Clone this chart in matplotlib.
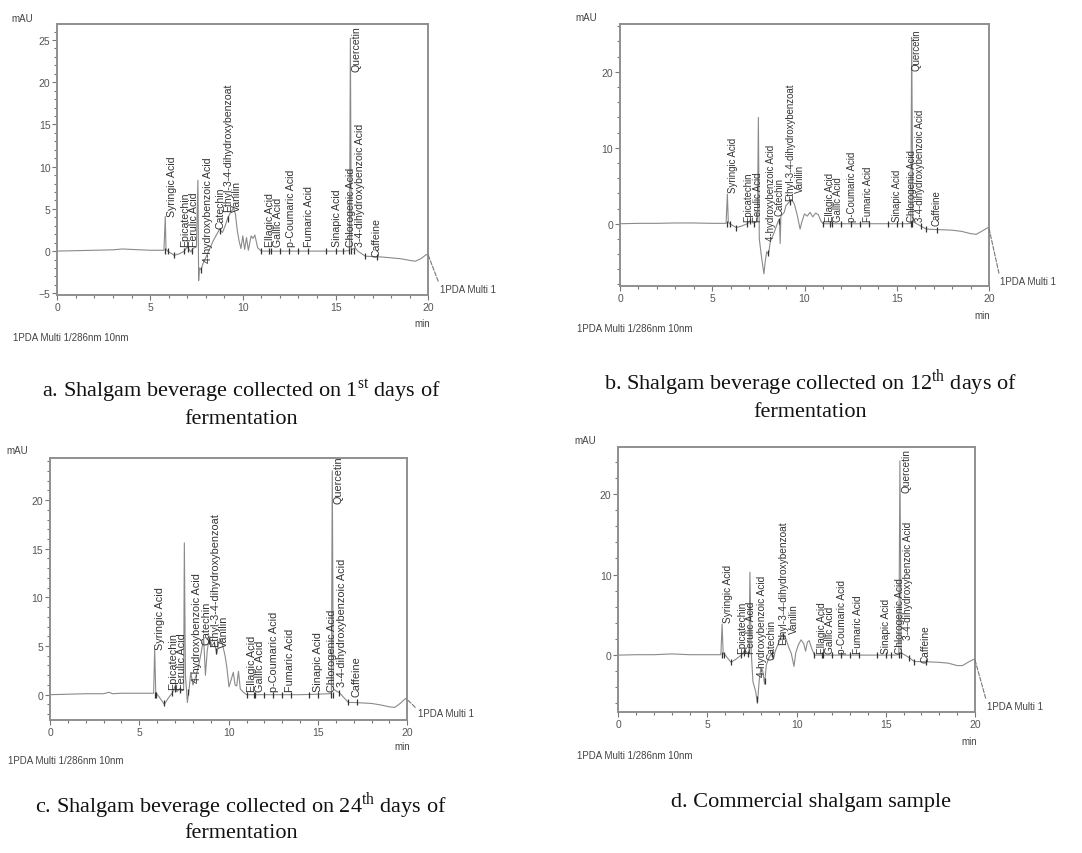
import numpy as np
import matplotlib
matplotlib.use("Agg")
import matplotlib.pyplot as plt
from matplotlib.ticker import MultipleLocator, FixedLocator

W, H = 1082, 854
plt.rcParams['font.family'] = ['Liberation Sans', 'DejaVu Sans']
plt.rcParams['mathtext.fontset'] = 'custom'
plt.rcParams['mathtext.rm'] = 'Liberation Serif'

# ---------------- data (retention time in min, signal in mAU) ----------------
compounds = ["Syringic Acid", "Epicatechin", "Ferulic Acid", "4-hydroxybenzoic Acid",
             "Catechin", "Ethyl-3-4-dihydroxybenzoat", "Vanilin", "Ellagic Acid",
             "Gallic Acid", "p-Coumaric Acid", "Fumaric Acid", "Sinapic Acid",
             "Chlorogenic Acid", "3-4-dihydroxybenzoic Acid", "Quercetin", "Caffeine"]

trace_a = [(0, 0), (1.0, 0.05), (2.0, 0.1), (3.0, 0.15), (3.5, 0.25), (4.0, 0.2), (5.0, 0.1),
           (5.75, 0.1), (5.82, 4.1), (5.86, 0.2), (5.95, 0.0), (6.3, -0.5), (6.6, -0.3),
           (6.85, 0.0), (7.0, 0.5), (7.1, 0.2), (7.2, -0.1), (7.3, 0.3), (7.5, 0.5),
           (7.58, 8.4), (7.62, -3.5), (7.66, -2.0), (7.75, -2.2), (7.85, -1.5), (8.0, -0.8),
           (8.2, 0.2), (8.4, 1.2), (8.6, 2.0), (8.75, 2.6), (8.9, 2.2), (9.05, 3.0),
           (9.2, 4.0), (9.35, 4.6), (9.5, 5.1), (9.6, 4.4), (9.7, 2.5), (9.8, 1.2),
           (9.9, 0.3), (10.0, 1.8), (10.1, 0.2), (10.2, 1.6), (10.3, 0.1), (10.45, 1.8),
           (10.55, 1.5), (10.65, 1.9), (10.8, 0.4), (11.0, 0.0), (12.0, 0.0), (13.0, 0.0),
           (14.0, 0.0), (15.0, 0.0), (15.5, 0.0), (15.75, 0.05), (15.8, 25.2), (15.85, 0.3),
           (15.9, 0.2), (16.05, 0.4), (16.2, 0.0), (16.4, -0.3), (16.6, -0.6), (17.0, -0.65),
           (17.5, -0.7), (18.0, -0.8), (18.5, -0.9), (19.0, -1.1), (19.3, -1.2), (19.6, -0.9),
           (19.9, -0.4), (20.0, -0.5)]

trace_b = [(0, 0), (1, 0.05), (2, 0.05), (3, 0.1), (4, 0.1), (5, 0.05), (5.75, 0.05),
           (5.82, 3.9), (5.87, 0.2), (5.95, 0), (6.3, -0.5), (6.6, -0.3), (6.9, 0),
           (7.05, 0.4), (7.2, 0.1), (7.35, 0.2), (7.45, 0.3), (7.5, 14.0), (7.55, -2.0),
           (7.65, -4.0), (7.8, -6.6), (7.87, -5.0), (7.95, -3.7), (8.05, -4.0), (8.15, -2.3),
           (8.3, -1.5), (8.45, -0.5), (8.6, 0.5), (8.65, 0.2), (8.68, -2.6), (8.72, 1.0),
           (8.9, 1.5), (9.0, 2.4), (9.15, 2.8), (9.3, 3.2), (9.45, 2.6), (9.6, 1.2),
           (9.76, -0.7), (9.85, 0.2), (10.0, 1.3), (10.15, 1.0), (10.3, 1.5), (10.45, 0.9),
           (10.6, 1.4), (10.75, 1.2), (10.9, 0.3), (11.0, 0), (12, 0), (13, 0), (14, 0),
           (15, 0), (15.6, 0), (15.76, 0.05), (15.81, 24.5), (15.87, 0.3), (16.0, 0.1),
           (16.3, -0.3), (16.6, -0.7), (17.0, -0.75), (17.5, -0.8), (18.0, -0.85),
           (18.5, -1.0), (19.0, -1.3), (19.3, -1.4), (19.6, -1.0), (19.95, -0.5), (20, -0.6)]

trace_c = [(0, 0), (1, 0.05), (2, 0.1), (3, 0.1), (3.3, 0.25), (3.5, 0.1), (4, 0.15),
           (5, 0.15), (5.8, 0.15), (5.86, 4.7), (5.92, 0.2), (6.1, -0.2), (6.4, -1.0),
           (6.6, -0.4), (6.85, 0.2), (7.0, 0.9), (7.1, 0.3), (7.25, 0.6), (7.4, 0.4),
           (7.48, 0.5), (7.52, 15.6), (7.58, 2.0), (7.69, -0.8), (7.8, 0.8), (7.88, 2.3),
           (8.0, 1.0), (8.15, 1.8), (8.3, 2.8), (8.45, 4.2), (8.6, 5.8), (8.7, 2.0),
           (8.8, 4.5), (8.92, 6.0), (9.05, 5.0), (9.2, 5.4), (9.33, 4.2), (9.5, 5.8),
           (9.65, 5.2), (9.8, 4.0), (9.9, 2.8), (10.02, 0.8), (10.15, 1.6), (10.26, 2.3),
           (10.36, 1.0), (10.45, 0.9), (10.55, 2.4), (10.65, 0.6), (10.8, 0.3), (11.0, 0),
           (12, 0), (13, 0), (14, 0), (15, 0.05), (15.6, 0.1), (15.75, 0.1), (15.8, 23.0),
           (15.86, 0.6), (16.0, 0.4), (16.2, 0.2), (16.45, -0.3), (16.7, -0.8), (17.0, -0.8),
           (17.5, -0.85), (18.0, -0.9), (18.5, -1.05), (19.0, -1.25), (19.3, -1.3),
           (19.6, -0.9), (19.9, -0.4), (20, -0.5)]

trace_d = [(0, 0), (1, 0.05), (2, 0.05), (3, 0.15), (3.5, 0.1), (4, 0.05), (5, 0.05),
           (5.75, 0.05), (5.82, 3.85), (5.88, 0.2), (6.0, 0), (6.32, -0.9), (6.6, -0.5),
           (6.9, 0), (7.1, 0.6), (7.25, 0.2), (7.33, 0.3), (7.38, 10.3), (7.45, 0.5),
           (7.55, -3.3), (7.7, -4.5), (7.8, -6.0), (7.9, -3.2), (8.0, -1.5), (8.1, -2.0),
           (8.2, -3.6), (8.3, -1.2), (8.45, -0.3), (8.6, 0.2), (8.7, -0.5), (8.8, 0.5),
           (8.95, 1.3), (9.1, 2.2), (9.25, 2.6), (9.4, 2.0), (9.55, 1.0), (9.7, 0.2),
           (9.85, -1.4), (9.95, 0.3), (10.1, 1.3), (10.25, 1.9), (10.4, 1.4), (10.5, 0.5),
           (10.6, 1.6), (10.7, 1.8), (10.85, 0.8), (11.0, 0), (12, 0), (13, 0), (14, 0),
           (15, 0), (15.5, 0), (15.73, 0.05), (15.79, 24.1), (15.86, 0.3), (16.0, 0.1),
           (16.3, -0.3), (16.6, -0.8), (17.0, -0.8), (17.5, -0.85), (18.0, -0.9),
           (18.5, -1.0), (19.0, -1.3), (19.3, -1.3), (19.6, -0.9), (19.95, -0.5), (20, -0.6)]

# peak label retention times and label base heights, per chromatogram
label_t_a = [6.18, 6.9, 7.35, 8.1, 8.78, 9.22, 9.66, 11.45, 11.9, 12.6, 13.55, 15.1, 15.85, 16.3, 16.15, 17.2]
label_y_a = [4.2, 0.6, 0.6, -1.3, 2.7, 4.7, 4.7, 0.6, 0.6, 0.6, 0.6, 0.6, 0.6, 0.6, 21.3, -0.6]
label_t_b = [6.11, 6.93, 7.46, 8.18, 8.62, 9.21, 9.76, 11.38, 11.83, 12.56, 13.46, 15.0, 15.81, 16.26, 16.08, 17.16]
label_y_b = [4.2, 0.4, 0.4, -2.2, 1.1, 3.1, 4.2, 0.4, 0.4, 0.4, 0.4, 0.4, 0.4, 0.4, 20.3, -0.2]
label_t_c = [6.16, 6.88, 7.38, 8.21, 8.78, 9.25, 9.72, 11.3, 11.78, 12.54, 13.43, 14.98, 15.8, 16.32, 16.14, 17.16]
label_y_c = [4.7, 0.6, 0.6, 1.3, 5.2, 5.0, 4.9, 0.4, 0.4, 0.4, 0.4, 0.4, 0.4, 0.9, 19.7, -0.1]
label_t_d = [6.17, 6.95, 7.42, 8.04, 8.6, 9.25, 9.85, 11.4, 11.87, 12.52, 13.46, 14.99, 15.79, 16.26, 16.17, 17.25]
label_y_d = [4.1, 0.3, 0.3, -2.6, -0.5, 1.4, 2.8, 0.3, 0.3, 0.3, 0.3, 0.3, 0.3, 2.0, 20.2, -0.9]

# integration marks (time, mAU)
marks_a = [(5.82, 0), (5.95, 0), (6.3, -0.5), (6.85, 0), (7.05, 0.3), (7.25, 0), (7.75, -2.2),
           (8.75, 2.4), (9.2, 3.8), (11.0, 0), (11.4, 0), (11.5, 0), (12.0, 0), (12.5, 0),
           (13.0, 0), (13.5, 0), (14.5, 0), (15.0, 0), (15.4, 0), (15.7, 0), (15.85, 0),
           (16.0, 0), (16.6, -0.6), (17.25, -0.7)]
marks_b = [(5.82, 0), (5.95, 0), (6.3, -0.5), (6.9, 0), (7.05, 0.3), (7.25, 0), (8.0, -3.8),
           (8.6, 0.3), (9.2, 2.8), (11.0, 0), (11.4, 0), (11.5, 0), (12.0, 0), (12.5, 0),
           (13.0, 0), (13.5, 0), (14.5, 0), (15.0, 0), (15.3, 0), (15.75, 0), (15.85, 0),
           (16.3, -0.3), (16.6, -0.7), (17.2, -0.8)]
marks_c = [(5.86, 0), (5.95, 0), (6.4, -0.9), (6.85, 0.2), (7.0, 0.6), (7.25, 0.5), (7.75, 0.3),
           (8.9, 5.5), (9.3, 4.5), (11.0, 0), (11.4, 0), (11.5, 0), (12.0, 0), (12.5, 0),
           (13.0, 0), (13.5, 0), (14.5, 0), (15.0, 0), (15.75, 0), (15.85, 0), (16.2, 0.2),
           (16.7, -0.8), (17.2, -0.8)]
marks_d = [(5.82, 0), (5.95, 0), (6.32, -0.8), (6.9, 0), (7.05, 0.3), (7.25, 0.2), (7.8, -5.5),
           (8.2, -3.2), (8.6, 0.2), (9.25, 2.4), (11.0, 0), (11.4, 0), (11.5, 0), (12.0, 0),
           (12.5, 0), (13.0, 0), (13.5, 0), (14.5, 0), (15.0, 0), (15.3, 0), (15.75, 0),
           (15.85, 0), (16.3, -0.3), (16.6, -0.8), (17.25, -0.8)]

captions = {
    "a": ["a. Shalgam beverage collected on 1$^{\\mathrm{st}}$ days of", "fermentation"],
    "b": ["b. Shalgam beverage collected on 12$^{\\mathrm{th}}$ days of", "fermentation"],
    "c": ["c. Shalgam beverage collected on 24$^{\\mathrm{th}}$ days of", "fermentation"],
    "d": ["d. Commercial shalgam sample"],
}
yticks = {"a": [-5, 0, 5, 10, 15, 20, 25], "b": [0, 10, 20], "c": [0, 5, 10, 15, 20], "d": [0, 10, 20]}
xticks = [0, 5, 10, 15, 20]
footnote = "1PDA Multi 1/286nm 10nm"
trace_name = "1PDA Multi 1"

# ---------------- layout (pixels) ----------------
panels = [
    dict(key="a", trace=trace_a, lt=label_t_a, ly=label_y_a, marks=marks_a,
         box=(57.3, 25, 428.3, 296), ylim=(-5.2, 26.9), minor=1, fs=7.6,
         mau=(22, 19), foot=(13, 338), mins=(422, 324), multi=(440, 290),
         cap_x=241, cap_y=[397, 424]),
    dict(key="b", trace=trace_b, lt=label_t_b, ly=label_y_b, marks=marks_b,
         box=(620, 25, 989, 287), ylim=(-8.2, 26.3), minor=2, fs=6.9,
         mau=(586, 18), foot=(577, 329), mins=(982, 316), multi=(1000, 282),
         cap_x=810, cap_y=[390, 417]),
    dict(key="c", trace=trace_c, lt=label_t_c, ly=label_y_c, marks=marks_c,
         box=(50, 458.7, 407.3, 721), ylim=(-2.6, 24.35), minor=1, fs=7.8,
         mau=(17, 451), foot=(8, 761), mins=(402, 747), multi=(418, 714),
         cap_x=241, cap_y=[813, 838]),
    dict(key="d", trace=trace_d, lt=label_t_d, ly=label_y_d, marks=marks_d,
         box=(618.3, 448.3, 975, 713.3), ylim=(-7.1, 25.8), minor=2, fs=7.3,
         mau=(585, 441), foot=(577, 756), mins=(969, 742), multi=(987, 707),
         cap_x=811, cap_y=[807]),
]

fig = plt.figure(figsize=(W / 100, H / 100), dpi=100)
fig.patch.set_facecolor("white")


def fx(x):
    return x / W


def fy(y):
    return 1 - y / H


tick_col = "#555555"
for p in panels:
    x0, y0, x1, y1 = p["box"]
    ax = fig.add_axes([fx(x0), fy(y1), (x1 - x0) / W, (y1 - y0) / H])
    t, v = zip(*p["trace"])
    ax.plot(t, v, color="#8a8a8a", lw=0.8, zorder=2)
    mt, mv = zip(*p["marks"])
    ax.plot(mt, mv, ls="none", marker="|", ms=4.5, mew=0.9, color="#333333", zorder=3)
    for name, lt, ly in zip(compounds, p["lt"], p["ly"]):
        ax.text(lt, ly, name, rotation=90, ha="center", va="bottom", fontsize=p["fs"],
                color="#333333", clip_on=False, zorder=4)
    ax.set_xlim(0, 20)
    ax.set_ylim(*p["ylim"])
    ax.xaxis.set_major_locator(FixedLocator(xticks))
    ax.xaxis.set_minor_locator(MultipleLocator(1))
    ax.yaxis.set_major_locator(FixedLocator(yticks[p["key"]]))
    ax.yaxis.set_minor_locator(MultipleLocator(p["minor"]))
    ax.tick_params(which="both", direction="out", colors="#777777", labelcolor=tick_col,
                   labelsize=7.5, width=0.8, pad=1.5)
    ax.tick_params(which="major", length=3.5)
    ax.tick_params(which="minor", length=2)
    for s in ax.spines.values():
        s.set_color("#8f8f8f")
        s.set_linewidth(1.4)
    # texts around the axes
    fig.text(fx(p["mau"][0]), fy(p["mau"][1]), "mAU", ha="center", va="center",
             fontsize=7, color="#444444")
    fig.text(fx(p["foot"][0]), fy(p["foot"][1]), footnote, ha="left", va="center",
             fontsize=7, color="#444444")
    fig.text(fx(p["mins"][0]), fy(p["mins"][1]), "min", ha="center", va="center",
             fontsize=7, color="#444444")
    ax.annotate(trace_name, xy=(t[-1], v[-1]), xycoords="data",
                xytext=(fx(p["multi"][0]), fy(p["multi"][1])), textcoords="figure fraction",
                ha="left", va="center", fontsize=7, color="#444444",
                arrowprops=dict(arrowstyle="-", ls="--", color="#777777", lw=0.8,
                                shrinkA=0, shrinkB=0, relpos=(0, 0.8)),
                annotation_clip=False)
    for line, cy in zip(captions[p["key"]], p["cap_y"]):
        fig.text(fx(p["cap_x"]), fy(cy), line, ha="center", va="baseline",
                 fontsize=16, family="Liberation Serif", color="#111111")

fig.savefig("out.png", dpi=100, facecolor="white")
